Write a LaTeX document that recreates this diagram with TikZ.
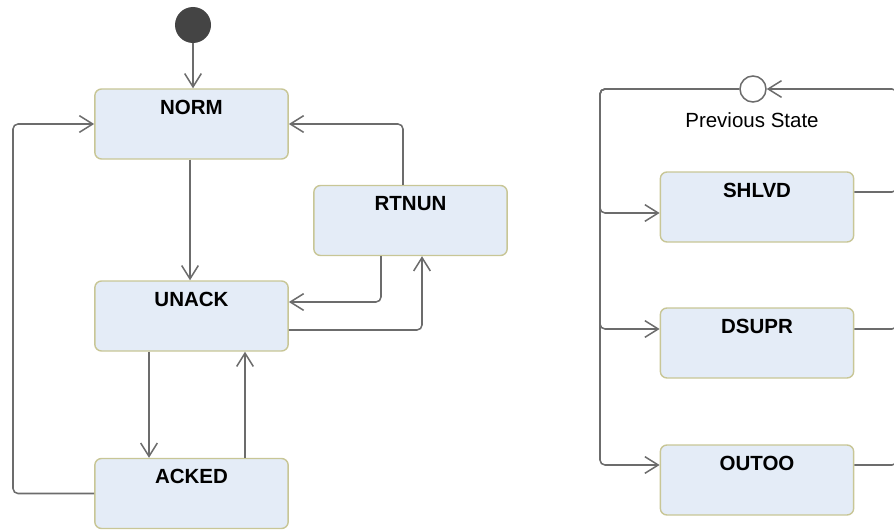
\documentclass[tikz,border=0pt]{standalone}
\usepackage{fontspec}
\setmainfont{Liberation Sans}
\usetikzlibrary{arrows.meta}

\definecolor{boxfill}{RGB}{228,236,247}
\definecolor{boxline}{RGB}{200,198,150}
\definecolor{wiregray}{RGB}{108,108,108}
\definecolor{dotgray}{RGB}{68,68,68}

\begin{document}
\begin{tikzpicture}[x=0.03cm, y=-0.03cm,
    state/.style={draw=boxline, line width=1.2pt, fill=boxfill, rounded corners=0.2cm,
        minimum width=5.8cm, inner sep=0pt, text height=0.75cm, text depth=1.35cm,
        font=\fontsize{17.5}{20}\selectfont\bfseries},
    link/.style={draw=wiregray, line width=1.3pt, rounded corners=0.15cm},
    flow/.style={link, -{Straight Barb[length=0.4cm, width=0.5cm]}}]

    \useasboundingbox (0,0) rectangle (894,531);
    \clip (0,0) rectangle (894,531);

    \node[circle, fill=dotgray, minimum size=1.08cm, inner sep=0pt] (init) at (193,25) {};
    \node[state] (norm) at (191.5,124) {NORM};
    \node[state] (unack) at (191.5,316) {UNACK};
    \node[state] (acked) at (191.5,493.5) {ACKED};
    \node[state] (rtnun) at (410.5,220.5) {RTNUN};

    \node[state] (shlvd) at (757,207) {SHLVD};
    \node[state] (dsupr) at (757,343) {DSUPR};
    \node[state] (outoo) at (757,480) {OUTOO};
    \node[circle, draw=wiregray, line width=1.3pt, fill=white,
        minimum size=0.78cm, inner sep=0pt] (hist) at (753,89) {};
    \node[font=\fontsize{17.5}{20}\selectfont] (histlbl) at (752,120) {Previous State};

    \coordinate (lft) at (13,0);
    \coordinate (mid) at (190,0);
    \coordinate (rtup) at (403,0);
    \coordinate (rtdn) at (381,302);
    \coordinate (upr) at (422,330);
    \coordinate (dn) at (149,0);
    \coordinate (up) at (245,0);

    \draw[flow] (init) -- (init |- norm.north);
    \draw[flow] (mid |- norm.south) -- (mid |- unack.north);
    \draw[flow] (acked.west) -- (acked.west -| lft) |- (norm.west);
    \draw[flow] (rtup |- rtnun.north) |- (norm.east);
    \draw[flow] (rtdn |- rtnun.south) |- (rtdn -| unack.east);
    \draw[flow] (upr -| unack.east) -| (upr |- rtnun.south);
    \draw[flow] (dn |- unack.south) -- (dn |- acked.north);
    \draw[flow] (up |- acked.north) -- (up |- unack.south);

    \coordinate (inA) at (600,213);
    \coordinate (inB) at (600,329);
    \coordinate (inC) at (600,465);
    \coordinate (outA) at (880,192);
    \coordinate (outB) at (880,329);
    \coordinate (outC) at (880,465);
    \coordinate (prgt) at (897,89);

    \draw[flow] (hist.west) -| (inA) -- (inA -| shlvd.west);
    \draw[flow] (hist.west) -| (inB) -- (inB -| dsupr.west);
    \draw[flow] (hist.west) -| (inC) -- (inC -| outoo.west);

    \draw[flow] (outA -| shlvd.east) -| (prgt) -- (hist.east);
    \draw[link] (outB -| dsupr.east) -| (prgt);
    \draw[link] (outC -| outoo.east) -| (prgt);
\end{tikzpicture}
\end{document}
